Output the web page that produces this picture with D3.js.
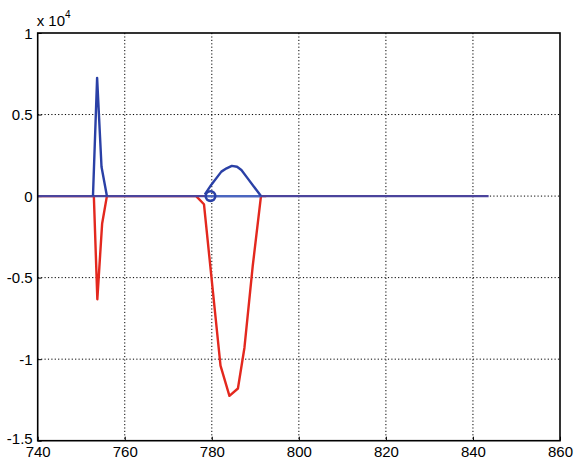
<!DOCTYPE html>
<html><head><meta charset="utf-8">
<script src="https://cdn.jsdelivr.net/npm/d3@7"></script>
<style>body{margin:0;background:#fff}svg{display:block}text{font-family:"Liberation Sans",Arial,Helvetica,sans-serif;fill:#000}</style>
</head><body>
<svg id="c" width="574" height="461"></svg>
<script>
// data (y values in units of 1e4)
const xTicks = [740, 760, 780, 800, 820, 840, 860];
const yTicks = [-1.5, -1, -0.5, 0, 0.5, 1];
const yTickLabels = ["-1.5", "-1", "-0.5", "0", "0.5", "1"];
const baseX = [740, 843.6];
const baseY = [0, 0];
const redX = [740, 752.9, 753.7, 754.8, 755.9, 776.4, 778.2, 782.0, 784.05, 786.0, 787.5, 789.4, 791.3, 792.5];
const redY = [0, 0, -0.633, -0.17, 0, 0, -0.05, -1.04, -1.225, -1.18, -0.93, -0.43, 0, 0];
const spikeX = [752.7, 753.65, 754.66, 755.9];
const spikeY = [0, 0.725, 0.18, 0];
const humpX = [778.4, 779.9, 782.2, 783.4, 784.6, 785.8, 786.8, 788.2, 791.3];
const humpY = [0.01, 0.07, 0.15, 0.17, 0.185, 0.18, 0.16, 0.11, 0];
const zeroSegX = [778.4, 791.3];
const zeroSegY = [0, 0];
const markerX = [779.7];
const markerY = [0];

const svg = d3.select("#c");
const L = 37.7, R = 560, T = 33, B = 440.7;
const x = d3.scaleLinear().domain([740, 860]).range([L, R]);
const y = d3.scaleLinear().domain([-1.5, 1]).range([B, T]);

// grid
const g = svg.append("g");
g.selectAll(".gx").data(xTicks.slice(1, -1)).enter().append("line")
  .attr("x1", d => x(d)).attr("x2", d => x(d)).attr("y1", T).attr("y2", B)
  .attr("stroke", "#000").attr("stroke-width", 1).attr("stroke-dasharray", "1.2,2.2");
g.selectAll(".gy").data(yTicks.slice(1, -1)).enter().append("line")
  .attr("y1", d => y(d)).attr("y2", d => y(d)).attr("x1", L).attr("x2", R)
  .attr("stroke", "#000").attr("stroke-width", 1).attr("stroke-dasharray", "1.2,2.2");

// axes
const xa = svg.append("g").attr("transform", `translate(0,${B})`)
  .call(d3.axisBottom(x).tickValues(xTicks).tickSize(-4).tickPadding(5).tickFormat(d3.format("d")));
const ya = svg.append("g").attr("transform", `translate(${L},0)`)
  .call(d3.axisLeft(y).tickValues(yTicks).tickSize(-4).tickPadding(5).tickFormat((d, i) => yTickLabels[i]));
[xa, ya].forEach(a => {
  a.select(".domain").remove();
  a.selectAll("text").style("font-size", "15px").style("font-family", '"Liberation Sans",Arial,sans-serif');
  a.selectAll(".tick line").attr("stroke", "#000");
});
ya.selectAll("text").attr("dy", "0.35em");
ya.selectAll(".tick").filter(d => d === -1.5).select("text").attr("dy", "0.2em");
xa.selectAll("text").attr("dy", "0.74em");

// lines
const line = d3.line().x(d => x(d[0])).y(d => y(d[1]));
const zip = (a, b) => a.map((v, i) => [v, b[i]]);
const lw = 2.4;
svg.append("path").attr("d", line(zip(redX, redY))).attr("fill", "none")
  .attr("stroke", "#e3281e").attr("stroke-width", lw).attr("stroke-linejoin", "round");
svg.append("path").attr("d", line(zip(baseX, baseY))).attr("fill", "none")
  .attr("stroke", "#4b449c").attr("stroke-width", lw);
svg.append("path").attr("d", line(zip(zeroSegX, zeroSegY))).attr("fill", "none")
  .attr("stroke", "#4a66c0").attr("stroke-width", 2.2);
svg.append("path").attr("d", line(zip(spikeX, spikeY))).attr("fill", "none")
  .attr("stroke", "#2a40a6").attr("stroke-width", lw).attr("stroke-linejoin", "round");
svg.append("path").attr("d", line(zip(humpX, humpY))).attr("fill", "none")
  .attr("stroke", "#2a40a6").attr("stroke-width", lw).attr("stroke-linejoin", "round");
svg.selectAll(".mk").data(zip(markerX, markerY)).enter().append("circle")
  .attr("cx", d => x(d[0])).attr("cy", d => y(d[1])).attr("r", 4.8)
  .attr("fill", "none").attr("stroke", "#2a40a6").attr("stroke-width", 2.6);

// box
svg.append("rect").attr("x", L).attr("y", T).attr("width", R - L).attr("height", B - T)
  .attr("fill", "none").attr("stroke", "#000").attr("stroke-width", 1.6);

// exponent label
const ex = svg.append("text").attr("x", L - 1).attr("y", 26).style("font-size", "15px");
ex.append("tspan").text("x 10");
ex.append("tspan").attr("dy", -8).style("font-size", "10px").text("4");
</script>
</body></html>
